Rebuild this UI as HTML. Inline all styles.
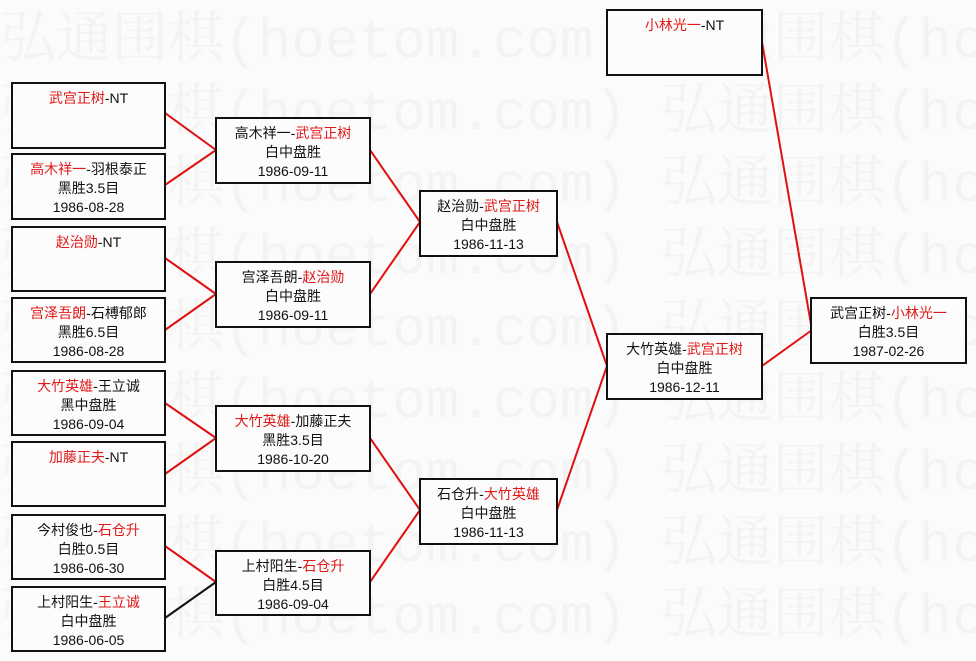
<!DOCTYPE html>
<html><head><meta charset="utf-8"><style>
body{margin:0;width:976px;height:661px;background:#fbfbfb;position:relative;overflow:hidden;font-family:"Liberation Sans","Noto Sans CJK SC",sans-serif;}
.wm{position:absolute;left:0;white-space:nowrap;font-family:"Liberation Mono","Noto Serif CJK SC",serif;font-size:56px;color:#f3f3f3;line-height:60px;}
.b{position:absolute;border:2px solid #111;background:#fcfcfc;box-sizing:border-box;text-align:center;font-size:14px;line-height:19px;padding-top:5px;color:#111;}
.r{color:#e01818}
svg{position:absolute;left:0;top:0}
</style></head><body>
<div class="wm" style="top:12px">弘通围棋(hoetom.com) 弘通围棋(hoetom.com)</div>
<div class="wm" style="top:84px">弘通围棋(hoetom.com) 弘通围棋(hoetom.com)</div>
<div class="wm" style="top:156px">弘通围棋(hoetom.com) 弘通围棋(hoetom.com)</div>
<div class="wm" style="top:228px">弘通围棋(hoetom.com) 弘通围棋(hoetom.com)</div>
<div class="wm" style="top:300px">弘通围棋(hoetom.com) 弘通围棋(hoetom.com)</div>
<div class="wm" style="top:372px">弘通围棋(hoetom.com) 弘通围棋(hoetom.com)</div>
<div class="wm" style="top:444px">弘通围棋(hoetom.com) 弘通围棋(hoetom.com)</div>
<div class="wm" style="top:516px">弘通围棋(hoetom.com) 弘通围棋(hoetom.com)</div>
<div class="wm" style="top:588px">弘通围棋(hoetom.com) 弘通围棋(hoetom.com)</div>
<svg width="976" height="661">
<g stroke="#e01010" stroke-width="2" fill="none">
<line x1="165" y1="113" x2="216" y2="150"/>
<line x1="165" y1="185" x2="216" y2="150"/>
<line x1="165" y1="258" x2="216" y2="294"/>
<line x1="165" y1="330" x2="216" y2="294"/>
<line x1="165" y1="403" x2="216" y2="438"/>
<line x1="165" y1="474" x2="216" y2="438"/>
<line x1="165" y1="546" x2="216" y2="582"/>
<line x1="370" y1="150" x2="420" y2="222"/>
<line x1="370" y1="294" x2="420" y2="222"/>
<line x1="370" y1="438" x2="420" y2="510"/>
<line x1="370" y1="582" x2="420" y2="510"/>
<line x1="557" y1="222" x2="607" y2="366"/>
<line x1="557" y1="510" x2="607" y2="366"/>
<line x1="762" y1="366" x2="812" y2="330"/>
<line x1="762" y1="42" x2="812" y2="330"/>
</g>
<line x1="165" y1="618" x2="216" y2="582" stroke="#111" stroke-width="2"/>
</svg>
<div class="b" style="left:11px;top:82px;width:155px;height:67px"><span class="r">武宫正树</span>-NT</div>
<div class="b" style="left:11px;top:153px;width:155px;height:67px"><span class="r">高木祥一</span>-羽根泰正<br>黑胜3.5目<br>1986-08-28</div>
<div class="b" style="left:11px;top:226px;width:155px;height:66px"><span class="r">赵治勋</span>-NT</div>
<div class="b" style="left:11px;top:297px;width:155px;height:66px"><span class="r">宫泽吾朗</span>-石榑郁郎<br>黑胜6.5目<br>1986-08-28</div>
<div class="b" style="left:11px;top:370px;width:155px;height:66px"><span class="r">大竹英雄</span>-王立诚<br>黑中盘胜<br>1986-09-04</div>
<div class="b" style="left:11px;top:441px;width:155px;height:66px"><span class="r">加藤正夫</span>-NT</div>
<div class="b" style="left:11px;top:514px;width:155px;height:66px">今村俊也-<span class="r">石仓升</span><br>白胜0.5目<br>1986-06-30</div>
<div class="b" style="left:11px;top:586px;width:155px;height:66px">上村阳生-<span class="r">王立诚</span><br>白中盘胜<br>1986-06-05</div>
<div class="b" style="left:215px;top:117px;width:156px;height:67px">高木祥一-<span class="r">武宫正树</span><br>白中盘胜<br>1986-09-11</div>
<div class="b" style="left:215px;top:261px;width:156px;height:67px">宫泽吾朗-<span class="r">赵治勋</span><br>白中盘胜<br>1986-09-11</div>
<div class="b" style="left:215px;top:405px;width:156px;height:67px"><span class="r">大竹英雄</span>-加藤正夫<br>黑胜3.5目<br>1986-10-20</div>
<div class="b" style="left:215px;top:550px;width:156px;height:66px">上村阳生-<span class="r">石仓升</span><br>白胜4.5目<br>1986-09-04</div>
<div class="b" style="left:419px;top:190px;width:139px;height:67px">赵治勋-<span class="r">武宫正树</span><br>白中盘胜<br>1986-11-13</div>
<div class="b" style="left:419px;top:478px;width:139px;height:67px">石仓升-<span class="r">大竹英雄</span><br>白中盘胜<br>1986-11-13</div>
<div class="b" style="left:606px;top:333px;width:157px;height:67px">大竹英雄-<span class="r">武宫正树</span><br>白中盘胜<br>1986-12-11</div>
<div class="b" style="left:606px;top:9px;width:157px;height:67px"><span class="r">小林光一</span>-NT</div>
<div class="b" style="left:810px;top:297px;width:157px;height:67px">武宫正树-<span class="r">小林光一</span><br>白胜3.5目<br>1987-02-26</div>
</body></html>
